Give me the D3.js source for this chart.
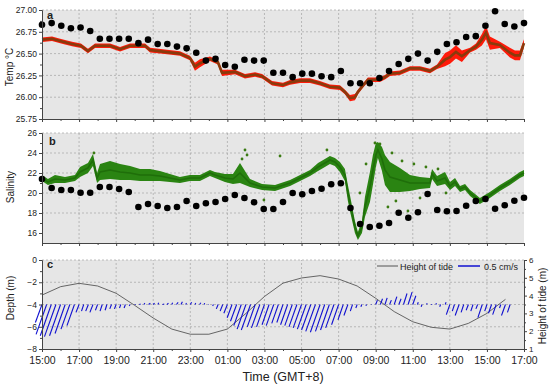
<!DOCTYPE html>
<html>
<head>
<meta charset="utf-8">
<script src="https://cdn.jsdelivr.net/npm/d3@7"></script>
<style>
body { margin: 0; background: #fff; }
svg text { font-family: "Liberation Sans", Arial, sans-serif; fill: #222; }
</style>
</head>
<body>
<div id="chart"></div>
<script>
// ---- data (time = hours elapsed since 15:00 on day 1) ----

// CTD casts (black dots), one every ~31 min
const ctdStep = 0.52;
const ctdTemp = [26.83,26.85,26.82,26.79,26.80,26.76,26.67,26.67,26.67,26.67,
  26.62,26.66,26.61,26.61,26.58,26.56,26.51,26.42,26.44,26.37,
  26.35,26.43,26.42,26.42,26.28,26.28,26.23,26.27,26.27,26.24,
  26.23,26.30,26.16,26.16,26.16,26.22,26.30,26.38,26.44,26.50,
  26.42,26.52,26.61,26.63,26.69,26.70,26.82,26.985,26.84,26.81,
  26.85];
const ctdSal = [21.4,20.5,20.3,20.3,20.03,20.03,20.6,20.6,20.4,20.1,
  18.6,18.9,18.7,18.5,18.6,19.2,18.7,18.97,19.1,19.4,
  19.8,19.5,19.07,18.4,18.4,19.1,20.0,19.87,20.2,20.43,
  20.87,20.97,18.5,16.9,16.6,16.73,17.0,18.03,17.53,18.07,
  19.9,18.3,18.17,18.2,18.73,19.2,19.4,18.43,18.77,19.23,
  19.53];

// moored temperature record
const tempHours = [0,0.54,1.08,1.62,2.10,2.48,2.86,3.67,4.21,4.75,
  5.56,5.83,6.63,7.44,7.98,8.25,8.52,9.06,9.49,9.71,
  10.41,10.95,11.49,11.87,12.41,13.00,13.38,13.92,14.46,14.99,
  15.53,16.07,16.34,16.61,16.88,17.04,17.26,17.58,18.23,18.50,
  18.77,19.31,19.85,20.39,20.93,21.31,21.74,22.01,22.33,22.65,
  23.09,23.41,23.73,23.95,24.16,24.70,25.24,25.51,25.78,26.00];
const tempMid = [26.66,26.67,26.64,26.61,26.59,26.53,26.59,26.59,26.55,26.59,
  26.59,26.54,26.52,26.50,26.45,26.35,26.39,26.44,26.40,26.28,
  26.29,26.24,26.26,26.24,26.16,26.14,26.17,26.19,26.19,26.16,
  26.12,26.11,26.06,25.99,26.00,26.06,26.12,26.20,26.20,26.23,
  26.27,26.28,26.33,26.33,26.30,26.35,26.43,26.46,26.52,26.47,
  26.54,26.58,26.66,26.74,26.62,26.60,26.51,26.48,26.48,26.62];
const tempSpread = [0.02,0.02,0.02,0.02,0.02,0.02,0.02,0.02,0.02,0.02,
  0.02,0.02,0.02,0.02,0.02,0.04,0.04,0.02,0.02,0.03,
  0.02,0.02,0.02,0.02,0.02,0.02,0.02,0.02,0.02,0.02,
  0.02,0.02,0.02,0.03,0.03,0.02,0.02,0.02,0.02,0.02,
  0.02,0.02,0.02,0.02,0.02,0.02,0.07,0.07,0.07,0.06,
  0.02,0.03,0.06,0.07,0.07,0.03,0.05,0.05,0.05,0.04];

// moored salinity record
const salHours = [0,0.32,0.70,1.24,1.78,2.05,2.48,2.75,2.97,3.13,
  3.67,4.21,4.75,5.29,5.83,6.36,6.90,7.44,7.98,8.52,
  9.06,9.33,9.87,10.30,10.68,11.22,11.87,12.57,13.38,13.92,
  14.46,14.89,15.26,15.53,15.80,16.07,16.34,16.50,16.61,16.88,
  17.04,17.26,17.42,17.69,17.85,18.01,18.12,18.34,18.50,18.77,
  19.31,19.85,20.39,20.93,21.04,21.31,21.74,22.01,22.28,22.55,
  22.82,23.09,23.36,23.62,24.16,24.70,25.24,25.78,26.00];
const salMid = [21.5,21.1,21.4,21.3,21.5,22.1,22.5,23.3,21.5,22.1,
  22.3,22.1,22.0,21.8,21.8,21.7,21.5,21.3,21.5,21.5,
  22.0,21.8,21.5,21.4,22.0,21.0,20.6,20.5,21.0,21.5,
  22.0,22.6,23.0,23.3,23.1,22.6,21.8,20.0,19.0,16.6,
  15.7,16.6,18.6,20.6,22.3,23.8,24.3,23.4,22.3,21.6,
  21.3,21.0,21.0,21.0,21.9,21.2,21.5,20.7,21.1,20.4,
  20.6,20.0,19.6,19.2,19.8,20.5,21.1,21.8,22.0];
const salSpread = [0.3,0.3,0.4,0.3,0.3,0.5,0.5,0.6,0.5,0.8,
  0.9,0.8,0.7,0.6,0.6,0.5,0.4,0.3,0.3,0.3,
  0.3,0.3,0.4,0.5,1.0,0.4,0.3,0.3,0.3,0.3,
  0.3,0.4,0.4,0.4,0.4,0.5,0.6,0.8,0.8,0.6,
  0.4,0.6,1.0,1.5,1.5,1.2,0.8,1.2,1.5,1.5,
  1.2,0.8,0.6,0.5,0.5,0.5,0.6,0.4,0.4,0.3,
  0.3,0.3,0.3,0.3,0.3,0.3,0.3,0.3,0.3];
const salOutHours = [2.80,10.95,11.06,10.79,11.97,12.84,15.37,17.15,17.48,17.96,
  18.23,18.88,19.09,19.42,18.66,19.74,20.06,20.39,20.71,21.36,21.79];
const salOutVals = [24.0,24.3,23.8,23.4,19.3,23.7,24.3,20.0,22.9,25.0,
  24.9,24.0,19.2,23.2,18.6,18.2,22.9,19.5,22.6,22.4,20.0];

// tide height (m), hourly from 15:00
const tideHeight = [4.03,4.5,4.69,4.54,4.13,3.45,2.74,2.12,1.83,1.83,
  2.12,3.0,3.95,4.7,4.99,5.12,4.93,4.54,3.85,3.1,
  2.53,2.22,2.12,2.44,3.0,3.79];

// current vectors (cm/s), every 15 min from 15:00
const curStep = 0.25;
const curU = [-0.15,-0.24,-0.25,-0.26,-0.25,-0.23,-0.20,-0.17,
  -0.07,-0.05,-0.06,-0.07,-0.05,-0.05,-0.04,-0.04,
  -0.04,-0.03,-0.03,-0.02,0.02,0.03,0.02,0.04,
  0.03,0.02,0.04,0.03,0.02,0.04,0.03,0.02,
  0.03,0.02,0.03,0.01,-0.01,-0.02,-0.04,-0.06,
  -0.08,-0.11,-0.14,-0.17,-0.20,-0.21,-0.18,-0.19,
  -0.18,-0.16,-0.17,-0.15,-0.14,-0.16,-0.17,-0.18,
  -0.19,-0.20,-0.21,-0.22,-0.22,-0.21,-0.20,-0.19,
  -0.16,-0.12,-0.09,-0.05,-0.03,-0.02,-0.01,0.01,
  0.04,0.05,0.05,0.04,0.06,0.05,0.08,0.09,
  0.07,0.02,-0.02,0.01,0.02,0.01,-0.02,0.02,
  -0.08,-0.05,-0.09,-0.06,-0.05,-0.05,-0.04,-0.10,
  -0.05,-0.07,-0.08,-0.03,-0.09,-0.06];
const curV = [-0.41,-0.68,-0.71,-0.73,-0.71,-0.66,-0.56,-0.48,
  -0.18,-0.15,-0.15,-0.18,-0.13,-0.15,-0.13,-0.10,
  -0.10,-0.08,-0.08,-0.03,0.0,0.01,0.03,0.03,
  0.03,0.04,0.01,0.03,0.04,0.05,0.06,0.03,
  0.05,0.03,0.04,0.03,0.0,-0.03,-0.10,-0.15,
  -0.20,-0.30,-0.38,-0.48,-0.56,-0.58,-0.51,-0.53,
  -0.51,-0.46,-0.48,-0.43,-0.41,-0.46,-0.48,-0.51,
  -0.53,-0.56,-0.58,-0.61,-0.63,-0.61,-0.58,-0.53,
  -0.46,-0.35,-0.25,-0.15,-0.08,-0.05,-0.03,0.0,
  0.10,0.13,0.15,0.10,0.18,0.13,0.25,0.28,
  0.20,0.05,-0.05,0.03,0.0,0.03,-0.05,0.05,
  -0.23,-0.15,-0.25,-0.18,-0.13,-0.15,-0.10,-0.30,
  -0.15,-0.20,-0.23,-0.08,-0.25,-0.18];

// axis ticks
const timeTicks = [0,2,4,6,8,10,12,14,16,18,20,22,24,26];
const timeLabels = ["15:00","17:00","19:00","21:00","23:00","01:00","03:00",
  "05:00","07:00","09:00","11:00","13:00","15:00","17:00"];
const tempTicks = [25.75,26.00,26.25,26.50,26.75,27.00];
const salTicks = [16,18,20,22,24,26];
const depthTicks = [-8,-6,-4,-2,0];
const tideTicks = [1,2,3,4,5,6];

function main(){
    let width = 550, height = 386;
    let svg = d3.select("#chart").append("svg")
        .attr("width", width).attr("height", height);

    let left = 42, right = 524;
    let x = d3.scaleLinear().domain([0, 26]).range([left, right]);

    let yA = d3.scaleLinear().domain([25.75, 27]).range([119, 10]);
    let yB = d3.scaleLinear().domain([15, 26]).range([243, 133]);
    let yC = d3.scaleLinear().domain([-8, 0]).range([349, 260]);
    let yR = d3.scaleLinear().domain([1, 6]).range([349, 260]);

    const axisCol = "#444";
    const minorTime = d3.range(1, 26, 2);

    // background + grid for one panel
    function panelFrame(y, yTicks){
        let [y0, y1] = y.range();
        svg.append("rect")
            .attr("x", left).attr("y", y1)
            .attr("width", right - left).attr("height", y0 - y1)
            .attr("fill", "#e6e6e6");
        let g = svg.append("g")
            .attr("stroke", "#a3a3a3").attr("stroke-width", 0.7)
            .attr("stroke-dasharray", "2,2");
        g.selectAll(".v").data(timeTicks.slice(1, -1)).enter().append("line")
            .attr("x1", d => x(d)).attr("x2", d => x(d))
            .attr("y1", y0).attr("y2", y1);
        g.selectAll(".h").data(yTicks.slice(1)).enter().append("line")
            .attr("x1", left).attr("x2", right)
            .attr("y1", d => y(d)).attr("y2", d => y(d));
    }

    function styleAxis(g, fs){
        g.select(".domain").attr("stroke", axisCol);
        g.selectAll(".tick line").attr("stroke", axisCol);
        g.selectAll("text").style("font-size", fs + "px").attr("fill", "#222");
    }

    function leftAxis(y, ticks, minor, fmt){
        let g = svg.append("g").attr("transform", `translate(${left},0)`);
        g.call(d3.axisLeft(y).tickValues(minor).tickSize(2).tickFormat("").tickSizeOuter(0));
        styleAxis(g, 8.5);
        let g2 = svg.append("g").attr("transform", `translate(${left},0)`);
        g2.call(d3.axisLeft(y).tickValues(ticks).tickSize(3).tickPadding(2)
            .tickFormat(fmt).tickSizeOuter(0));
        styleAxis(g2, 8.5);
    }

    function bottomAxis(y, labels){
        let yb = y.range()[0];
        let g = svg.append("g").attr("transform", `translate(0,${yb})`);
        g.call(d3.axisBottom(x).tickValues(minorTime).tickSize(2).tickFormat("").tickSizeOuter(0));
        styleAxis(g, 10);
        let g2 = svg.append("g").attr("transform", `translate(0,${yb})`);
        g2.call(d3.axisBottom(x).tickValues(timeTicks).tickSize(3).tickPadding(5)
            .tickFormat((d, i) => labels ? timeLabels[i] : "").tickSizeOuter(0));
        styleAxis(g2, 10.5);
    }

    function panelLetter(txt, px, py){
        svg.append("text").attr("x", px).attr("y", py)
            .style("font-size", "11px").style("font-weight", "bold").text(txt);
    }

    function yTitle(txt, px, py){
        svg.append("text")
            .attr("transform", `translate(${px},${py}) rotate(-90)`)
            .attr("text-anchor", "middle").style("font-size", "10px").text(txt);
    }

    // ---------- panel a: temperature ----------
    panelFrame(yA, tempTicks);
    let tempData = tempHours.map((h, i) => ({h, v: tempMid[i], s: tempSpread[i]}));
    svg.append("path").datum(tempData)
        .attr("fill", "#ff1a0a")
        .attr("d", d3.area().x(d => x(d.h))
            .y0(d => yA(d.v - d.s - 0.006)).y1(d => yA(d.v + d.s + 0.006)));
    svg.append("path").datum(tempData)
        .attr("fill", "none").attr("stroke", "#8a3a0c").attr("stroke-width", 2.6)
        .attr("d", d3.line().x(d => x(d.h)).y(d => yA(d.v)));
    svg.append("g").selectAll("circle").data(ctdTemp).enter().append("circle")
        .attr("cx", (d, i) => x(i * ctdStep)).attr("cy", d => yA(d))
        .attr("r", 3.3).attr("fill", "#000");
    leftAxis(yA, tempTicks, [25.875,26.125,26.375,26.625,26.875], d3.format(".2f"));
    bottomAxis(yA, false);
    panelLetter("a", 47, 19);
    yTitle("Temp °C", 13, 67);

    // ---------- panel b: salinity ----------
    panelFrame(yB, salTicks);
    let salData = salHours.map((h, i) => ({h, v: salMid[i], s: salSpread[i]}));
    svg.append("path").datum(salData)
        .attr("fill", "#2a8412")
        .attr("d", d3.area().x(d => x(d.h))
            .y0(d => yB(d.v - d.s)).y1(d => yB(d.v + d.s)));
    svg.append("path").datum(salData)
        .attr("fill", "none").attr("stroke", "#1f6e0a").attr("stroke-width", 1.6)
        .attr("d", d3.line().x(d => x(d.h)).y(d => yB(d.v)));
    svg.append("g").selectAll("circle").data(salOutVals).enter().append("circle")
        .attr("cx", (d, i) => x(salOutHours[i])).attr("cy", d => yB(d))
        .attr("r", 1.4).attr("fill", "#3a7a12");
    svg.append("g").selectAll("circle").data(ctdSal).enter().append("circle")
        .attr("cx", (d, i) => x(i * ctdStep)).attr("cy", d => yB(d))
        .attr("r", 3.3).attr("fill", "#000");
    leftAxis(yB, salTicks, [17,19,21,23,25], d3.format("d"));
    bottomAxis(yB, false);
    panelLetter("b", 49, 145);
    yTitle("Salinity", 14, 187);

    // ---------- panel c: tide and currents ----------
    panelFrame(yC, depthTicks);
    svg.append("path").datum(tideHeight)
        .attr("fill", "none").attr("stroke", "#444").attr("stroke-width", 0.8)
        .attr("d", d3.line().x((d, i) => x(i)).y(d => yR(d)));

    const K = 44; // px per cm/s
    let base = yC(-4);
    svg.append("g").attr("stroke", "#1010d0").attr("stroke-width", 1.1)
        .selectAll("line").data(curV).enter().append("line")
        .attr("x1", (d, i) => x(i * curStep)).attr("y1", base)
        .attr("x2", (d, i) => x(i * curStep) + curU[i] * K)
        .attr("y2", d => base - d * K);

    leftAxis(yC, depthTicks, [-7,-5,-3,-1], d3.format("d"));
    bottomAxis(yC, true);

    let gr = svg.append("g").attr("transform", `translate(${right},0)`);
    gr.call(d3.axisRight(yR).tickValues([1.5,2.5,3.5,4.5,5.5]).tickSize(2).tickFormat("").tickSizeOuter(0));
    styleAxis(gr, 8);
    let gr2 = svg.append("g").attr("transform", `translate(${right},0)`);
    gr2.call(d3.axisRight(yR).tickValues(tideTicks).tickSize(3).tickPadding(2)
        .tickFormat(d3.format("d")).tickSizeOuter(0));
    styleAxis(gr2, 8);

    panelLetter("c", 47, 268);
    yTitle("Depth (m)", 14, 298);
    yTitle("Height of tide (m)", 546, 306);

    // legend
    svg.append("line").attr("x1", 377).attr("x2", 398).attr("y1", 266).attr("y2", 266)
        .attr("stroke", "#444").attr("stroke-width", 0.9);
    svg.append("text").attr("x", 400).attr("y", 269.5).style("font-size", "9px").text("Height of tide");
    svg.append("line").attr("x1", 458).attr("x2", 458 + 0.5 * K).attr("y1", 266).attr("y2", 266)
        .attr("stroke", "#1010d0").attr("stroke-width", 1.5);
    svg.append("text").attr("x", 484).attr("y", 269.5).style("font-size", "9px").text("0.5 cm/s");

    svg.append("text").attr("x", 283).attr("y", 381).attr("text-anchor", "middle")
        .style("font-size", "12.5px").text("Time (GMT+8)");
}

window.onload = () => {
    main();
};
</script>
</body>
</html>
